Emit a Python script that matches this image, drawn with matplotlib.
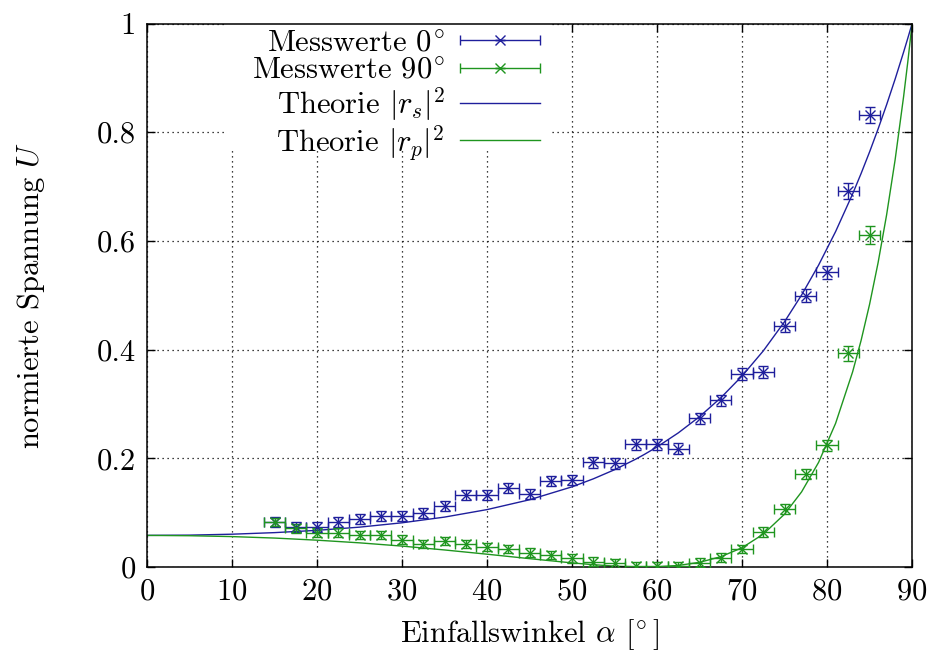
import matplotlib
matplotlib.use("Agg")
import matplotlib.pyplot as plt
from matplotlib.patches import Rectangle
from matplotlib.legend_handler import HandlerErrorbar

plt.rcParams['font.family'] = 'serif'
plt.rcParams['font.serif'] = ['cmr10']
plt.rcParams['mathtext.fontset'] = 'cm'
plt.rcParams['axes.formatter.use_mathtext'] = True
plt.rcParams['font.size'] = 22

# Messwerte (Winkel in Grad, normierte Spannung)
winkel = [15, 17.5, 20, 22.5, 25, 27.5, 30, 32.5, 35, 37.5, 40, 42.5, 45, 47.5, 50,
          52.5, 55, 57.5, 60, 62.5, 65, 67.5, 70, 72.5, 75, 77.5, 80, 82.5, 85]
u_0 = [0.083, 0.073, 0.074, 0.083, 0.088, 0.094, 0.094, 0.100, 0.112, 0.132, 0.132,
       0.145, 0.134, 0.158, 0.160, 0.193, 0.191, 0.226, 0.226, 0.218, 0.274, 0.307,
       0.355, 0.358, 0.444, 0.499, 0.542, 0.692, 0.832]
u_90 = [0.083, 0.071, 0.063, 0.063, 0.059, 0.059, 0.050, 0.042, 0.048, 0.042, 0.037,
        0.033, 0.026, 0.022, 0.016, 0.010, 0.007, 0.001, 0.002, 0.002, 0.008, 0.017,
        0.033, 0.064, 0.106, 0.171, 0.224, 0.393, 0.611]
err_winkel = 1.25
err_0 = [0.009, 0.009, 0.009, 0.009, 0.009, 0.009, 0.009, 0.009, 0.009, 0.009, 0.009,
         0.009, 0.009, 0.009, 0.009, 0.010, 0.010, 0.010, 0.010, 0.010, 0.010, 0.010,
         0.011, 0.011, 0.012, 0.012, 0.012, 0.014, 0.015]
err_90 = [0.008, 0.008, 0.008, 0.008, 0.008, 0.008, 0.008, 0.008, 0.008, 0.008, 0.008,
          0.008, 0.008, 0.008, 0.008, 0.008, 0.008, 0.008, 0.008, 0.008, 0.008, 0.008,
          0.008, 0.009, 0.009, 0.010, 0.010, 0.014, 0.017]

# Theoriekurven
theorie_winkel = [0, 5, 10, 15, 20, 25, 30, 35, 40, 45, 50, 52.5, 55, 57.5, 58.5, 60,
                  62.5, 65, 67.5, 70, 72.5, 75, 77, 79, 81, 83, 84, 85, 86, 87, 88,
                  89, 89.5, 90]
rs2 = [0.0581, 0.0586, 0.0603, 0.0632, 0.0674, 0.0733, 0.0813, 0.0918, 0.1056, 0.1237,
       0.1475, 0.1622, 0.1790, 0.1985, 0.2071, 0.2209, 0.2468, 0.2767, 0.3114, 0.3515,
       0.3978, 0.4515, 0.5005, 0.5555, 0.6172, 0.6864, 0.7241, 0.7639, 0.8061, 0.8506,
       0.8977, 0.9475, 0.9734, 1.0]
rp2 = [0.0581, 0.0575, 0.0559, 0.0532, 0.0493, 0.0444, 0.0384, 0.0313, 0.0235, 0.0153,
       0.0075, 0.0042, 0.0016, 0.0002, 0.0000, 0.0003, 0.0028, 0.0086, 0.0189, 0.0354,
       0.0605, 0.0973, 0.1382, 0.1925, 0.2643, 0.3589, 0.4169, 0.4835, 0.5600, 0.6479,
       0.7491, 0.8656, 0.9304, 1.0]

xticks = [0, 10, 20, 30, 40, 50, 60, 70, 80, 90]
yticks = [0, 0.2, 0.4, 0.6, 0.8, 1]
ytick_labels = ['0', '0.2', '0.4', '0.6', '0.8', '1']

blau = '#1f1f9c'
gruen = '#1f951f'

fig = plt.figure(figsize=(9.33, 6.55), dpi=100)
ax = fig.add_axes([0.1576, 0.1344, 0.82, 0.8296])

eb0 = ax.errorbar(winkel, u_0, xerr=err_winkel, yerr=err_0, fmt='x', color=blau,
                  ms=7, mew=1, elinewidth=1, capsize=3.5, capthick=1, zorder=3)
eb90 = ax.errorbar(winkel, u_90, xerr=err_winkel, yerr=err_90, fmt='x', color=gruen,
                   ms=7, mew=1, elinewidth=1, capsize=3.5, capthick=1, zorder=3)
l_s, = ax.plot(theorie_winkel, rs2, color=blau, lw=1, zorder=2)
l_p, = ax.plot(theorie_winkel, rp2, color=gruen, lw=1, zorder=2)

ax.set_xlim(0, 90)
ax.set_ylim(0, 1)
ax.set_xticks(xticks)
ax.set_yticks(yticks)
ax.set_yticklabels(ytick_labels)
ax.tick_params(direction='in', top=True, right=True, length=6, width=1, pad=8)
for s in ax.spines.values():
    s.set_linewidth(1.1)
ax.grid(True, color='black', linestyle=(0, (1, 3)), linewidth=0.9)
ax.set_axisbelow(True)

ax.set_xlabel(r'Einfallswinkel $\alpha$ $[^{\!\circ}]$', labelpad=8)
ax.set_ylabel(r'normierte Spannung $U$', labelpad=36)

# weisser Hintergrund der Legende (wie gnuplot key box)
ax.add_patch(Rectangle((0.102, 0.771), 0.425, 0.229, transform=ax.transAxes,
                       facecolor='white', edgecolor='none', zorder=1))

labels = ['Messwerte $0^{\\!\\circ}$', 'Messwerte $90^{\\!\\circ}$',
          r'Theorie $|r_s|^2$', r'Theorie $|r_p|^2$']
leg = ax.legend([eb0, eb90, l_s, l_p], labels,
                loc='upper right', bbox_to_anchor=(0.521, 1.0), borderaxespad=0,
                markerfirst=False, frameon=False, handlelength=2.6,
                handletextpad=0.5, labelspacing=0.0, borderpad=0.2,
                handler_map={type(eb0): HandlerErrorbar(xerr_size=1.3, yerr_size=0)})
leg.set_zorder(5)

fig.savefig('out.png', dpi=100)
